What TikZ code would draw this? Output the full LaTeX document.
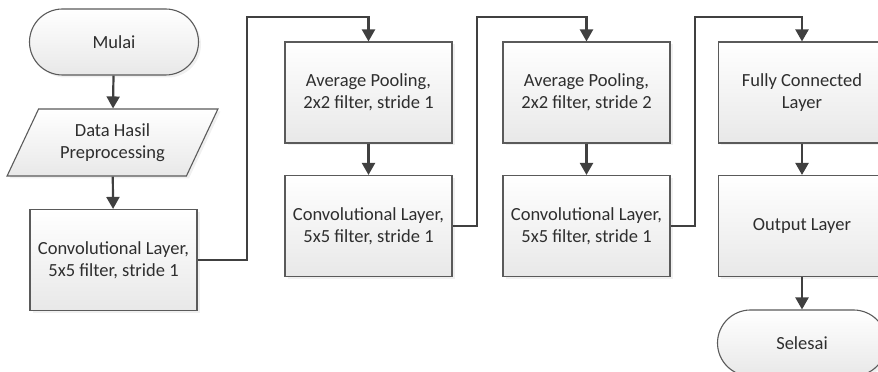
\documentclass[tikz,border=0pt]{standalone}
\usepackage{fontspec}
\setmainfont{Carlito}
\usetikzlibrary{arrows.meta,shapes.geometric,shadows}
\definecolor{boxline}{HTML}{5A5A5A}
\definecolor{arrowgray}{HTML}{404040}
\definecolor{textgray}{HTML}{2E2E2E}
\begin{document}
\begin{tikzpicture}[x=1pt, y=1pt,
    flowbox/.style={rectangle, draw=boxline, line width=1.1pt, top color=white, bottom color=black!9,
        minimum width=167pt, minimum height=101pt, align=center, text=textgray,
        font=\fontsize{18.5}{22}\selectfont,
        drop shadow={opacity=0.12, shadow xshift=2.5pt, shadow yshift=-2.5pt}},
    terminal/.style={flowbox, rounded corners=33pt, minimum width=169pt, minimum height=66pt},
    iobox/.style={flowbox, trapezium, trapezium left angle=62, trapezium right angle=118,
        trapezium stretches=true, minimum width=211pt, minimum height=67pt},
    flow/.style={draw=arrowgray, line width=2.2pt, -{Triangle[length=12pt, width=13pt]}}]
            \useasboundingbox (0,0) rectangle (878,372);
            \clip (0,0) rectangle (878,372);

            \node[terminal] (mulai) at (114,330) {Mulai};
            \node[iobox] (data) at (112.5,229.5) {Data Hasil\\Preprocessing};
            \node[flowbox] (conv1) at (113.5,112) {Convolutional Layer,\\5x5 filter, stride 1};

            \node[flowbox] (avg1) at (368.5,279.5) {Average Pooling,\\2x2 filter, stride 1};
            \node[flowbox] (conv2) at (368.5,146) {Convolutional Layer,\\5x5 filter, stride 1};

            \node[flowbox] (avg2) at (586.5,279.5) {Average Pooling,\\2x2 filter, stride 2};
            \node[flowbox] (conv3) at (586.5,146) {Convolutional Layer,\\5x5 filter, stride 1};

            \node[flowbox] (fc) at (802,279.5) {Fully Connected\\Layer};
            \node[flowbox] (out) at (802,146) {Output Layer};
            \node[terminal] (selesai) at (802,29) {Selesai};

            \coordinate (bend1) at (247,355);
            \coordinate (bend2) at (477,355);
            \coordinate (bend3) at (695,355);

            \draw[flow] (mulai) -- (data);
            \draw[flow] (data) -- (conv1);
            \draw[flow] (conv1.east) -| (bend1) -| (avg1.north);
            \draw[flow] (avg1) -- (conv2);
            \draw[flow] (conv2.east) -| (bend2) -| (avg2.north);
            \draw[flow] (avg2) -- (conv3);
            \draw[flow] (conv3.east) -| (bend3) -| (fc.north);
            \draw[flow] (fc) -- (out);
            \draw[flow] (out) -- (selesai);
        \end{tikzpicture}
\end{document}
